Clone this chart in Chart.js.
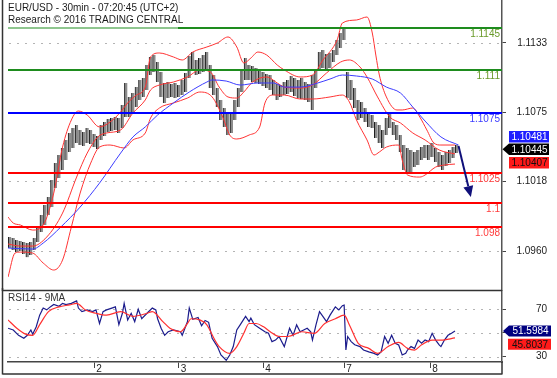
<!DOCTYPE html>
<html><head><meta charset="utf-8">
<script src="https://cdn.jsdelivr.net/npm/chart.js@4/dist/chart.umd.min.js"></script>
<style>
html,body{margin:0;padding:0;background:#fff;}
#wrap{position:relative;width:557px;height:378px;overflow:hidden;background:#fff;}
#main{position:absolute;left:0;top:0;width:557px;height:291px;}
#rsi{position:absolute;left:0;top:288px;width:557px;height:90px;}
</style></head><body>
<div id="wrap"><canvas id="main" width="557" height="291"></canvas><canvas id="rsi" width="557" height="90"></canvas></div>
<script>
// ---------- DATA ----------
const titleLine1 = 'EUR/USD - 30min - 07:20:45 (UTC+2)';
const titleLine2 = 'Research \u00a9 2016 TRADING CENTRAL';
const rsiTitle = 'RSI14 - 9MA';

const dayLabels = ['2', '3', '4', '7', '8'];
const dayStarts = [49, 97, 145, 191, 240];          // bar index where each day starts
const priceTicks = [1.0960, 1.1018, 1.1075, 1.1133];
const rsiTicks = [30, 50, 70];

const levels = [1.1145, 1.111, 1.1075, 1.1025, 1.1, 1.098];
const levelLabels = ['1.1145', '1.111', '1.1075', '1.1025', '1.1', '1.098'];

// hourly price bars (high / low)
const highs = [1.09717,1.09709,1.09692,1.09684,1.09676,1.09667,1.09676,1.09709,1.09808,1.0990,
1.09983,1.10049,1.1019,1.10331,1.10398,1.10456,1.10523,1.10581,1.10622,1.10647,
1.10606,1.10589,1.10622,1.10606,1.10572,1.10556,1.10647,1.10672,1.10697,1.10705,
1.10713,1.10705,1.10813,1.10996,1.1088,1.10913,1.10962,1.11021,1.11037,1.11145,
1.11212,1.11228,1.1117,1.11087,1.10996,1.11004,1.10987,1.10996,1.10979,1.11021,
1.11079,1.1122,1.11253,1.11187,1.11203,1.11228,1.11253,1.11145,1.11062,1.10954,
1.10855,1.10788,1.10738,1.10755,1.10855,1.10954,1.11104,1.11203,1.11145,1.11137,
1.1112,1.11112,1.11087,1.1107,1.11062,1.11021,1.10987,1.10979,1.11004,1.11021,
1.11054,1.11037,1.11021,1.11037,1.11004,1.10987,1.11062,1.11104,1.11253,1.1127,
1.11237,1.11245,1.1127,1.11353,1.11411,1.11444,1.11087,1.11021,1.10954,1.10855,
1.10838,1.10788,1.10747,1.1073,1.10672,1.10647,1.10606,1.10705,1.10747,1.10672,
1.10647,1.10564,1.10481,1.10456,1.1044,1.10423,1.1044,1.10464,1.10481,1.10481,
1.10498,1.10456,1.10423,1.10398,1.10423,1.1044,1.10464,1.10481];
const lows = [1.09626,1.09609,1.09592,1.09601,1.09576,1.0955,1.09567,1.09609,1.09676,1.09758,
1.09817,1.0990,1.09966,1.10124,1.10207,1.10273,1.10356,1.10423,1.10456,1.10498,
1.10481,1.10473,1.10498,1.1049,1.10464,1.10448,1.10523,1.10556,1.10589,1.10597,
1.10606,1.10581,1.10622,1.10713,1.10713,1.10755,1.10796,1.10855,1.1088,1.10938,
1.11062,1.11087,1.11004,1.1088,1.1083,1.10871,1.1088,1.10871,1.1088,1.10896,
1.10921,1.11037,1.11104,1.11062,1.1107,1.11087,1.11104,1.10954,1.10896,1.10796,
1.10689,1.10631,1.10564,1.10581,1.10689,1.10796,1.10921,1.11021,1.11021,1.11004,
1.10996,1.10987,1.10971,1.10954,1.10938,1.10896,1.10855,1.1088,1.10896,1.10904,
1.10921,1.10888,1.10871,1.10863,1.10855,1.10838,1.10772,1.10954,1.11104,1.1112,
1.11104,1.1112,1.1117,1.11228,1.11286,1.11353,1.10871,1.10855,1.10788,1.10689,
1.10705,1.10672,1.10631,1.10622,1.10539,1.10498,1.10456,1.10564,1.10622,1.10564,
1.10523,1.10423,1.10273,1.10248,1.10257,1.10298,1.10315,1.10356,1.10373,1.10356,
1.10381,1.1034,1.10298,1.10273,1.10307,1.10331,1.10373,1.10415];

// Bollinger bands and moving average: [bar index, price]
const bbUpper = [[0,1.09883],[3,1.09833],[7,1.09817],[14,1.09775],[20,1.09817],[26,1.10082],[31,1.10464],[36,1.10689],[40,1.10763],[45,1.1073],[52,1.10631],[58,1.10672],[64,1.10755],[68,1.1083],[73,1.10896],[78,1.10962],[81,1.11212],[86,1.11245],[94,1.11212],[99,1.11187],[105,1.11253],[113,1.11295],[119,1.11328],[125,1.11378],[130,1.11295],[134,1.11162],[138,1.11203],[142,1.11253],[147,1.11228],[153,1.11145],[157,1.11104],[166,1.11046],[173,1.11062],[179,1.11187],[187,1.11353],[190,1.11494],[198,1.11519],[204,1.11544],[207,1.11411],[209,1.11228],[211,1.11062],[215,1.1088],[221,1.10772],[224,1.10772],[230,1.10788],[234,1.10713],[238,1.10606],[242,1.10498],[246,1.10481],[254,1.10481]];
const bbMid = [[0,1.09659],[7,1.09642],[14,1.09642],[22,1.09717],[31,1.09916],[39,1.10215],[45,1.10414],[51,1.10548],[56,1.10581],[64,1.10606],[71,1.10747],[78,1.10855],[81,1.10938],[86,1.10979],[94,1.11004],[102,1.11046],[109,1.11104],[115,1.11087],[120,1.10962],[125,1.1088],[130,1.10871],[134,1.10921],[139,1.11004],[147,1.11046],[153,1.10996],[157,1.10962],[166,1.10954],[173,1.10979],[181,1.11079],[189,1.1117],[194,1.11187],[200,1.11129],[204,1.11046],[210,1.1088],[217,1.10713],[223,1.10664],[230,1.10581],[237,1.10523],[245,1.1044],[254,1.10407]];
const bbLower = [[0,1.09385],[4,1.09584],[7,1.09592],[14,1.09584],[20,1.09501],[26,1.09443],[31,1.09526],[36,1.098],[41,1.10082],[47,1.10331],[52,1.10464],[58,1.10481],[66,1.10456],[71,1.10523],[78,1.10581],[81,1.10705],[86,1.10788],[94,1.1083],[102,1.10871],[109,1.10921],[116,1.1088],[122,1.10713],[126,1.10564],[130,1.10531],[137,1.10564],[143,1.10631],[146,1.1083],[151,1.10896],[157,1.10896],[166,1.10863],[173,1.10863],[183,1.1088],[190,1.10896],[194,1.10838],[198,1.10689],[204,1.10523],[208,1.10398],[211,1.10423],[215,1.10464],[222,1.10481],[224,1.10356],[227,1.10232],[234,1.10215],[237,1.10232],[243,1.10298],[248,1.10315],[254,1.10323]];
const maLine = [[0,1.09626],[14,1.09617],[20,1.09667],[30,1.098],[41,1.09966],[52,1.10165],[64,1.10414],[71,1.10548],[78,1.10631],[85,1.1073],[94,1.1083],[103,1.10921],[113,1.11004],[116,1.11021],[124,1.11012],[132,1.10979],[142,1.10996],[151,1.10996],[157,1.10962],[166,1.10962],[176,1.10996],[183,1.11029],[190,1.11062],[198,1.11054],[207,1.11029],[215,1.10962],[223,1.10913],[230,1.10796],[237,1.1068],[246,1.10548],[256,1.10481]];

const lastMA = 1.10481, lastClose = 1.10445, lastMid = 1.10407;
const arrowFrom = [256, 1.10473], arrowTo = [263, 1.10049];

// RSI
const rsiLine = [[0,54],[3,52.5],[6,48],[9,45.5],[11,48],[13,52.5],[14,49],[16,55],[18,65],[20,71],[22,69.5],[24,72],[26,74],[29,72.5],[31,75],[33,74],[36,75],[39,77],[40,71],[42,68],[45,69.5],[48,68],[50,69.5],[52,58],[54,68],[56,69.5],[59,71],[61,72],[63,57],[65,66.6],[66,75],[68,61],[70,66.6],[72,59.6],[74,70],[76,62],[79,66.6],[82,71],[84,69.5],[85,62],[87,54],[89,48],[91,51],[94,52.5],[98,51],[99,48],[102,59.6],[103,71],[105,61.5],[108,63],[110,56],[112,60.5],[114,59],[116,45.5],[119,38.5],[121,31.4],[124,27],[126,31.4],[128,38.5],[130,52.5],[132,57],[135,64],[137,59.6],[138,62.5],[140,57],[143,54],[146,51],[148,49.7],[150,42.7],[152,44],[154,47],[157,38.5],[160,54],[162,48],[164,56.8],[166,51],[168,52.5],[170,54],[172,51],[173,44],[175,56.8],[177,68],[179,63.8],[181,59.6],[183,65],[186,72],[188,69.5],[190,73],[191,73.5],[192,35.6],[193,47],[195,42.7],[197,40],[200,38.5],[202,35.6],[205,34],[208,32.8],[210,31.4],[212,34],[214,47],[216,41.3],[218,48],[220,41.3],[222,39.9],[224,31.4],[226,32.8],[227,35.6],[229,38.5],[231,37],[233,44],[235,41.3],[237,44],[239,42.7],[241,49.7],[243,44],[245,39.9],[246,38.5],[248,44],[250,48],[252,49.7],[254,51.5984]];
const rsiMa = [[0,61],[5,54],[10,49],[14,48],[18,57],[23,68],[29,72],[35,73.7],[39,75],[44,69.4],[50,66.6],[56,65],[64,68],[71,64],[79,66.6],[82,68],[88,59.6],[92,54],[98,51],[102,58],[104,62],[109,61],[113,56.8],[117,45.5],[120,38.5],[126,32.8],[130,38.5],[134,49.7],[137,58],[141,58],[145,55.4],[149,51],[154,47],[159,47],[167,51],[174,49.7],[180,58],[186,62],[191,65],[194,56.8],[199,41.3],[205,37],[210,32.8],[216,38.5],[222,42],[227,37],[231,35.6],[235,40],[241,44],[246,44],[254,45.8037]];
const lastRsi = 51.5984, lastRsiMa = 45.8037;

// ---------- STYLE / LAYOUT ----------
const FAM = '"Liberation Sans", Arial, sans-serif';
const FONT = '10px ' + FAM;
const X_MIN = 0, X_MAX = 280.7;
const PRICE_MIN = 1.09269, PRICE_MAX = 1.11685;
const RSI_MIN = 25.5, RSI_MAX = 85.4;
const levelColors = ['#1e8c1e', '#1e8c1e', '#0000ff', '#ff0000', '#ff0000', '#ff0000'];
const levelText = ['#6a9a2a', '#6a9a2a', '#3c3cff', '#ff3c3c', '#ff3c3c', '#ff3c3c'];
const barX = highs.map((_, i) => 1 + 2 * i);
const toXY = arr => arr.map(p => ({x: p[0], y: p[1]}));
const noPad = s => { s.paddingTop = 0; s.paddingBottom = 0; s.paddingLeft = 0; s.paddingRight = 0; };

function drawBox(ctx, cy, x0, x1, h, fill, color, text, tip) {
  ctx.save();
  ctx.fillStyle = fill;
  ctx.beginPath();
  if (tip != null) { ctx.moveTo(tip, cy); ctx.lineTo(x0, cy - h / 2); } else ctx.moveTo(x0, cy - h / 2);
  ctx.lineTo(x1, cy - h / 2); ctx.lineTo(x1, cy + h / 2); ctx.lineTo(x0, cy + h / 2);
  ctx.closePath(); ctx.fill();
  ctx.fillStyle = color; ctx.font = FONT; ctx.textAlign = 'center'; ctx.textBaseline = 'middle';
  ctx.fillText(text, (x0 + x1) / 2 + 0.5, cy + 0.5);
  ctx.restore();
}
function dotted(ctx, a, yPix) {
  ctx.save();
  ctx.strokeStyle = '#b4b4b4'; ctx.lineWidth = 1; ctx.setLineDash([2, 6]);
  const py = Math.round(yPix) + 0.5;
  ctx.beginPath(); ctx.moveTo(a.left + 1, py); ctx.lineTo(a.right - 2, py); ctx.stroke();
  ctx.restore();
}

const mainDecor = {
  id: 'mainDecor',
  beforeDatasetsDraw(chart) {
    const {ctx, chartArea: a, scales: {y}} = chart;
    priceTicks.forEach(v => dotted(ctx, a, y.getPixelForValue(v)));
  },
  afterDatasetsDraw(chart) {
    const {ctx, chartArea: a, scales: {x, y}} = chart;
    ctx.save();
    // support / resistance levels
    levels.forEach((v, i) => {
      const py = Math.round(y.getPixelForValue(v));
      ctx.strokeStyle = levelColors[i]; ctx.lineWidth = 2;
      ctx.beginPath(); ctx.moveTo(a.left, py); ctx.lineTo(a.right, py); ctx.stroke();
      ctx.fillStyle = levelText[i]; ctx.font = FONT; ctx.textAlign = 'right'; ctx.textBaseline = 'top';
      ctx.fillText(levelLabels[i], a.right - 2, py + 1.5);
    });
    // arrow
    const x1 = x.getPixelForValue(arrowFrom[0]), y1 = y.getPixelForValue(arrowFrom[1]);
    const x2 = x.getPixelForValue(arrowTo[0]), y2 = y.getPixelForValue(arrowTo[1]);
    const ang = Math.atan2(y2 - y1, x2 - x1), L = 11, Wd = 5;
    const bx = x2 - L * Math.cos(ang), by = y2 - L * Math.sin(ang);
    ctx.strokeStyle = '#10107a'; ctx.fillStyle = '#10107a'; ctx.lineWidth = 2;
    ctx.beginPath(); ctx.moveTo(x1, y1); ctx.lineTo(bx, by); ctx.stroke();
    ctx.beginPath(); ctx.moveTo(x2, y2);
    ctx.lineTo(bx + Wd * Math.sin(ang), by - Wd * Math.cos(ang));
    ctx.lineTo(bx - Wd * Math.sin(ang), by + Wd * Math.cos(ang));
    ctx.closePath(); ctx.fill();
    // title
    ctx.fillStyle = 'rgba(255,255,255,0.5)'; ctx.fillRect(a.left, 0, 170, 29);
    ctx.fillStyle = '#1a1a1a'; ctx.font = FONT; ctx.textAlign = 'left'; ctx.textBaseline = 'alphabetic';
    ctx.fillText(titleLine1, 8, 11);
    ctx.fillText(titleLine2, 8, 23);
    // value boxes
    const cB = y.getPixelForValue(lastClose);
    const cMA = Math.min(y.getPixelForValue(lastMA), cB - 12.6);
    const cMid = Math.max(y.getPixelForValue(lastMid), cB + 13.5);
    drawBox(ctx, cMA, 509, 549, 11.5, '#1e1eff', '#fff', lastMA.toFixed(5), null);
    drawBox(ctx, cB, 509, 549, 11.5, '#000', '#fff', lastClose.toFixed(5), 502.5);
    drawBox(ctx, cMid, 509, 549, 11.5, '#ff1a1a', '#111', lastMid.toFixed(5), null);
    // left frame
    ctx.strokeStyle = '#333'; ctx.lineWidth = 1.5;
    ctx.beginPath(); ctx.moveTo(2.5, 0); ctx.lineTo(2.5, chart.height); ctx.stroke();
    ctx.restore();
  }
};

const rsiDecor = {
  id: 'rsiDecor',
  beforeDatasetsDraw(chart) {
    const {ctx, chartArea: a, scales: {y}} = chart;
    rsiTicks.forEach(v => dotted(ctx, a, y.getPixelForValue(v)));
  },
  afterDatasetsDraw(chart) {
    const {ctx, chartArea: a, scales: {y}} = chart;
    ctx.save();
    ctx.fillStyle = '#333'; ctx.font = FONT; ctx.textAlign = 'left'; ctx.textBaseline = 'alphabetic';
    ctx.fillText(rsiTitle, 8, a.top + 9.5);
    const c1 = y.getPixelForValue(lastRsi);
    const c2 = Math.max(y.getPixelForValue(lastRsiMa), c1 + 13.3);
    drawBox(ctx, c1, 509, 551, 11, '#000080', '#fff', lastRsi.toFixed(4), 503);
    drawBox(ctx, c2, 508, 551, 11, '#ff1a1a', '#111', lastRsiMa.toFixed(4), null);
    ctx.strokeStyle = '#333'; ctx.lineWidth = 1.5;
    ctx.beginPath();
    ctx.moveTo(2.5, a.top - 0.5); ctx.lineTo(a.right, a.top - 0.5);
    ctx.moveTo(2.5, 0); ctx.lineTo(2.5, 86.5);
    ctx.moveTo(2.5, 86); ctx.lineTo(a.right, 86);
    ctx.moveTo(a.right, a.bottom); ctx.lineTo(a.right, 86.5);
    ctx.stroke();
    ctx.restore();
  }
};

const common = {
  responsive: false, animation: false, devicePixelRatio: 1,
  plugins: {legend: {display: false}, tooltip: {enabled: false}}
};

new Chart(document.getElementById('main'), {
  type: 'line',
  data: {datasets: [
    {type: 'line', label: 'MA', data: toXY(maLine), borderColor: '#3c3cff', borderWidth: 1, pointRadius: 0, cubicInterpolationMode: 'monotone', order: 1},
    {type: 'line', label: 'BB upper', data: toXY(bbUpper), borderColor: '#ff3333', borderWidth: 1, pointRadius: 0, cubicInterpolationMode: 'monotone', order: 2},
    {type: 'line', label: 'BB mid', data: toXY(bbMid), borderColor: '#ff3333', borderWidth: 1, pointRadius: 0, cubicInterpolationMode: 'monotone', order: 3},
    {type: 'line', label: 'BB lower', data: toXY(bbLower), borderColor: '#ff3333', borderWidth: 1, pointRadius: 0, cubicInterpolationMode: 'monotone', order: 4},
    {type: 'bar', label: 'EUR/USD', data: highs.map((h, i) => ({x: barX[i], y: [lows[i], h]})), backgroundColor: '#8c8c8c', borderColor: '#1e1e1e', borderWidth: {left: 1, right: 0, top: 0, bottom: 0}, borderSkipped: false, barThickness: 3, grouped: false, order: 10}
  ]},
  options: Object.assign({}, common, {
    layout: {padding: {left: 8, right: 10, top: 0, bottom: 0}},
    scales: {
      x: {type: 'linear', min: X_MIN, max: X_MAX, display: false, offset: false},
      y: {position: 'right', min: PRICE_MIN, max: PRICE_MAX,
        afterFit(s) { s.width = 45; noPad(s); },
        afterBuildTicks(s) { s.ticks = priceTicks.map(v => ({value: v})); },
        ticks: {callback: v => v.toFixed(4), crossAlign: 'far', padding: 0, color: '#222', font: {family: FAM, size: 10}},
        grid: {drawOnChartArea: false, drawTicks: true, tickLength: 4, tickColor: '#444', tickWidth: 1},
        border: {display: true, color: '#555', width: 1.5}}
    }
  }),
  plugins: [mainDecor]
});

new Chart(document.getElementById('rsi'), {
  type: 'line',
  data: {datasets: [
    {label: 'RSI MA', data: toXY(rsiMa), borderColor: '#ff3030', borderWidth: 1.2, pointRadius: 0, cubicInterpolationMode: 'monotone', order: 1},
    {label: 'RSI14', data: toXY(rsiLine), borderColor: '#1c1c8c', borderWidth: 1.2, pointRadius: 0, tension: 0, order: 2}
  ]},
  options: Object.assign({}, common, {
    layout: {padding: {left: 8, right: 10, top: 3, bottom: 0}},
    scales: {
      x: {type: 'linear', min: X_MIN, max: X_MAX, offset: false,
        afterFit(s) { s.height = 16; noPad(s); },
        afterBuildTicks(s) { s.ticks = dayStarts.map(v => ({value: v})); },
        ticks: {callback: (v, i) => dayLabels[i], align: 'start', labelOffset: 2, padding: -5, autoSkip: false, maxRotation: 0, color: '#222', font: {family: FAM, size: 10}},
        grid: {drawOnChartArea: false, drawTicks: true, tickLength: 6, tickColor: '#444'},
        border: {display: true, color: '#444', width: 1.5}},
      y: {position: 'right', min: RSI_MIN, max: RSI_MAX,
        afterFit(s) { s.width = 45; noPad(s); },
        afterBuildTicks(s) { s.ticks = rsiTicks.map(v => ({value: v})); },
        ticks: {callback: v => (v === 50 ? '' : String(v)), crossAlign: 'far', padding: 0, color: '#222', font: {family: FAM, size: 10}},
        grid: {drawOnChartArea: false, drawTicks: true, tickLength: 4, tickColor: '#444'},
        border: {display: true, color: '#555', width: 1.5}}
    }
  }),
  plugins: [rsiDecor]
});
</script></body></html>
